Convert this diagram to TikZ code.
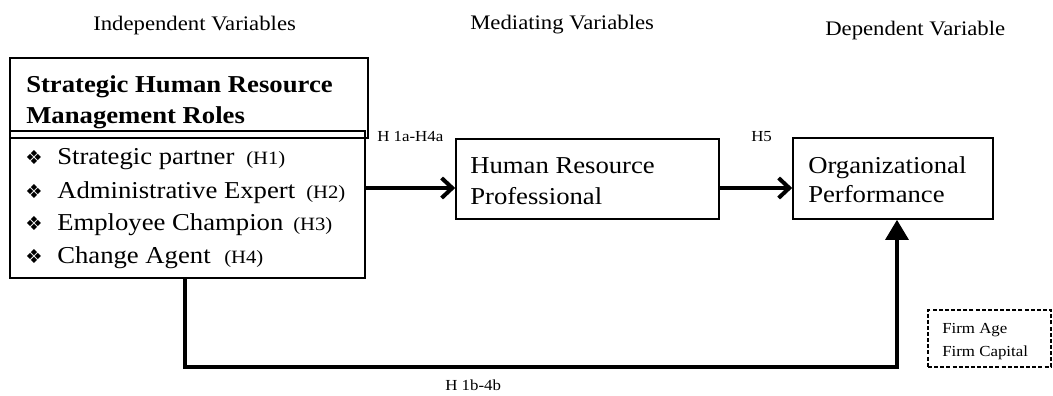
\documentclass[tikz,border=0pt]{standalone}
\usepackage{fontspec}
\setmainfont{Liberation Serif}[FakeStretch=1.1]
\newfontfamily\dingfont{DejaVu Sans}
\usetikzlibrary{arrows.meta,calc}
\newcommand\fsmain{\fontsize{18.2}{21}\selectfont}
\newcommand\fshyp{\fontsize{14.1}{16}\selectfont}
\newcommand\fstitle{\fontsize{15.5}{18}\selectfont}
\newcommand\fssmall{\fontsize{11.5}{13}\selectfont}
\begin{document}
\begin{tikzpicture}[x=0.75pt,y=-0.75pt,
  box/.style={draw, line width=1.2pt, inner sep=0pt, rectangle},
  dbox/.style={draw, line width=1pt, dash pattern=on 3pt off 1.6pt, inner sep=0pt, rectangle},
  lbl/.style={anchor=base west, inner sep=0pt},
  conn/.style={line width=3pt},
  barb/.style={-{Straight Barb[length=8pt,width=15pt]}},
  tri/.style={-{Triangle[length=15pt,width=17pt]}}]
\useasboundingbox (0,0) rectangle (1053,396);
% titles
\node[lbl,font=\fstitle] (t1) at (93,30) {Independent Variables};
\node[lbl,font=\fstitle] (t2) at (470,29) {Mediating Variables};
\node[lbl,font=\fstitle] (t3) at (825,35) {Dependent Variable};
% boxes
\node[box, minimum width=266.25pt, minimum height=110.25pt] (srhmB) at (187.5,204.5) {};
\node[box, minimum width=268.5pt, minimum height=60pt] (srhmT) at (189,98) {};
\node[box, minimum width=197.25pt, minimum height=60pt] (hrp) at (587.5,179) {};
\node[box, minimum width=150pt, minimum height=60.75pt] (org) at (893,178.5) {};
\node[dbox, minimum width=92.25pt, minimum height=42.75pt] (ctrl) at (989.5,338.5) {};
% header
\node[lbl,font=\fsmain\bfseries] (h1) at (26,92) {Strategic Human Resource};
\node[lbl,font=\fsmain\bfseries] (h2) at (26,123) {Management Roles};
% bullets
\foreach \y/\n in {164/1,198/2,230/3,263/4}{
  \node[lbl,font=\dingfont\fontsize{14.5}{16}\selectfont] (b\n) at (25,\y) {❖};
}
\node[lbl,font=\fsmain] (r1) at (57,164) {Strategic partner};
\node[lbl,font=\fsmain] (r2) at (57,198) {Administrative Expert};
\node[lbl,font=\fsmain] (r3) at (57,230) {Employee Champion};
\node[lbl,font=\fsmain] (r4) at (57,263) {Change Agent};
\node[lbl,font=\fshyp] (q1) at (246,164) {(H1)};
\node[lbl,font=\fshyp] (q2) at (306,198) {(H2)};
\node[lbl,font=\fshyp] (q3) at (293,230) {(H3)};
\node[lbl,font=\fshyp] (q4) at (224,263) {(H4)};
% box texts
\node[lbl,font=\fsmain] (hr1) at (470,173) {Human Resource};
\node[lbl,font=\fsmain] (hr2) at (470,204) {Professional};
\node[lbl,font=\fsmain] (o1) at (808,173) {Organizational};
\node[lbl,font=\fsmain] (o2) at (808,202) {Performance};
\node[lbl,font=\fssmall] (f1) at (942,333) {Firm Age};
\node[lbl,font=\fssmall] (f2) at (942,356) {Firm Capital};
% labels
\node[lbl,font=\fssmall] (la) at (377,141) {H 1a-H4a};
\node[lbl,font=\fssmall] (lb) at (751,141) {H5};
\node[lbl,font=\fssmall] (lc) at (445,390) {H 1b-4b};
% connectors
\coordinate (a1) at ($(hrp.west)+(0,9)$);
\coordinate (a2) at ($(org.west)+(0,9.5)$);
\coordinate (c1) at (185,367);
\coordinate (c2) at (897,367);
\draw[conn,barb] (srhmB.east |- a1) -- (a1);
\draw[conn,barb] (hrp.east |- a2) -- (a2);
\draw[conn,tri] (srhmB.south -| c1) -- (c1) -- (c2) -- (org.south -| c2);
\end{tikzpicture}
\end{document}
